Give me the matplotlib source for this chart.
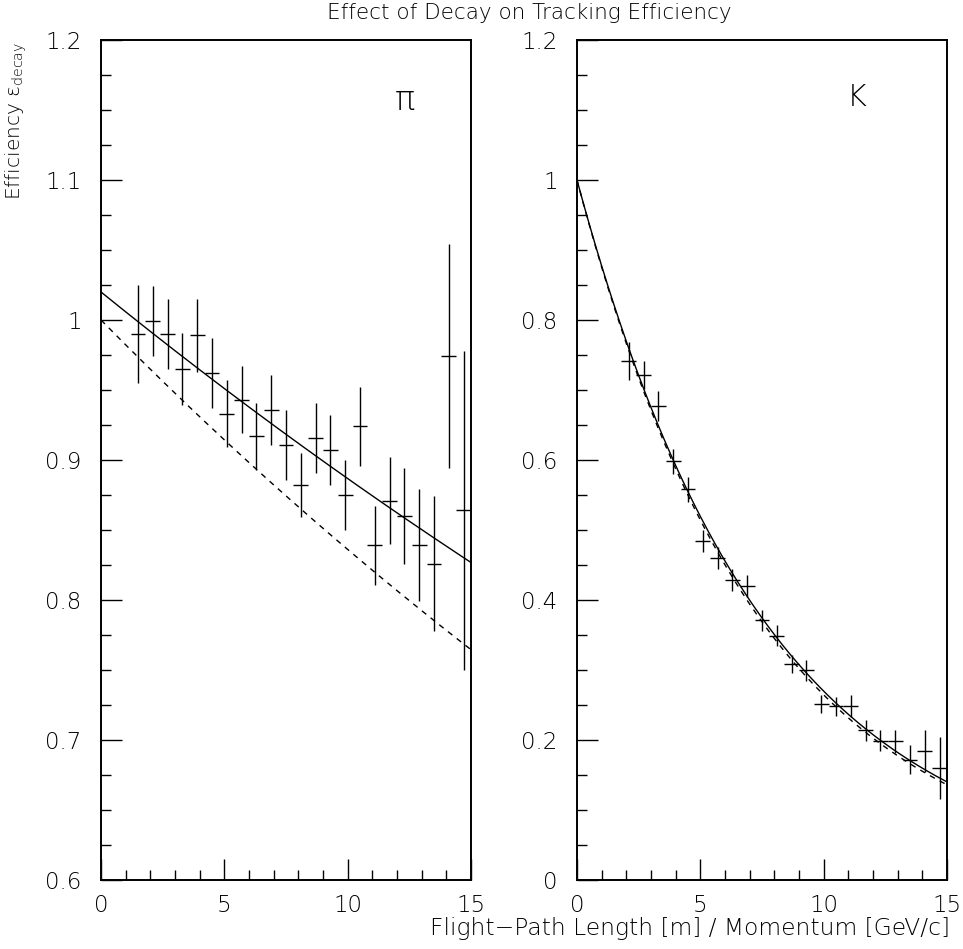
import matplotlib
matplotlib.use("Agg")
import matplotlib.pyplot as plt
from matplotlib.ticker import MultipleLocator, FuncFormatter
import numpy as np

plt.rcParams["font.family"] = ["DejaVu Sans"]
plt.rcParams["font.weight"] = 200
plt.rcParams["mathtext.fontset"] = "custom"
plt.rcParams["mathtext.rm"] = "DejaVu Sans:weight=200"
plt.rcParams["mathtext.it"] = "DejaVu Sans:weight=200"

# ── pion panel: measured efficiency per bin ───────────────────────────────
PI_X = [1.5, 2.1, 2.7, 3.3, 3.9, 4.5, 5.1, 5.7, 6.3, 6.9, 7.5, 8.1,
        8.7, 9.3, 9.9, 10.5, 11.1, 11.7, 12.3, 12.9, 13.5, 14.1, 14.7]
PI_Y = [0.990, 0.999, 0.990, 0.965, 0.989, 0.962, 0.933, 0.943, 0.917,
        0.936, 0.911, 0.882, 0.916, 0.907, 0.875, 0.924, 0.839, 0.871,
        0.860, 0.839, 0.826, 0.974, 0.864]
PI_ERR = [0.035, 0.025, 0.025, 0.026, 0.026, 0.025, 0.024, 0.024, 0.024,
          0.025, 0.025, 0.023, 0.025, 0.025, 0.025, 0.028, 0.028, 0.031,
          0.034, 0.040, 0.048, 0.080, 0.114]

# ── kaon panel ─────────────────────────────────────────────────────────────
K_X = [0.3, 0.9, 1.5, 2.1, 2.7, 3.3, 3.9, 4.5, 5.1, 5.7, 6.3, 6.9, 7.5,
       8.1, 8.7, 9.3, 9.9, 10.5, 11.1, 11.7, 12.3, 12.9, 13.5, 14.1, 14.7]
K_Y = [0.0, 0.0, 0.0, 0.742, 0.722, 0.677, 0.598, 0.558, 0.484, 0.460,
       0.429, 0.420, 0.371, 0.349, 0.309, 0.300, 0.251, 0.248, 0.249,
       0.214, 0.199, 0.198, 0.172, 0.185, 0.160]
K_ERR = [0.0, 0.0, 0.0, 0.027, 0.020, 0.021, 0.018, 0.018, 0.016, 0.016,
         0.016, 0.016, 0.015, 0.015, 0.013, 0.015, 0.013, 0.013, 0.016,
         0.015, 0.015, 0.017, 0.021, 0.030, 0.044]

BIN_HALF = 0.3

# exponential curves p0 * exp(-p1 * x): (p0, p1)
PI_FIT = (1.02, 0.0140)
PI_DECAY = (1.00, 0.0179)
K_FIT = (1.00, 0.131)
K_DECAY = (1.00, 0.133)

TICK_FS = 16.5


def fmt(v, pos):
    return f"{v:g}"


def style_axis(ax, ylim, ymajor, yminor):
    ax.set_xlim(0, 15)
    ax.set_ylim(*ylim)
    ax.xaxis.set_major_locator(MultipleLocator(5))
    ax.xaxis.set_minor_locator(MultipleLocator(1))
    ax.yaxis.set_major_locator(MultipleLocator(ymajor))
    ax.yaxis.set_minor_locator(MultipleLocator(yminor))
    ax.xaxis.set_major_formatter(FuncFormatter(fmt))
    ax.yaxis.set_major_formatter(FuncFormatter(fmt))
    ax.tick_params(which="both", direction="in", top=False, right=False,
                   width=1.0, color="black", labelsize=TICK_FS)
    ax.tick_params(which="major", length=15)
    ax.tick_params(which="minor", length=7.5)
    ax.tick_params(axis="y", which="major", pad=14)
    ax.tick_params(axis="x", which="major", pad=10)
    for sp in ax.spines.values():
        sp.set_linewidth(1.4)


def draw_panel(ax, xs, ys, errs, fit, decay):
    ax.errorbar(xs, ys, xerr=BIN_HALF, yerr=errs, fmt="none",
                ecolor="black", elinewidth=1.0, capsize=0)
    xx = np.linspace(0, 15, 300)
    ax.plot(xx, fit[0] * np.exp(-fit[1] * xx), color="black", lw=1.0)
    ax.plot(xx, decay[0] * np.exp(-decay[1] * xx), color="black", lw=1.0,
            dashes=(4, 4))


fig = plt.figure(figsize=(9.63, 9.49), dpi=100)
fig.patch.set_facecolor("white")
ax1 = fig.add_axes([101 / 963, 69 / 949, 370 / 963, 840 / 949])
ax2 = fig.add_axes([577 / 963, 69 / 949, 370 / 963, 840 / 949])

style_axis(ax1, (0.6, 1.2), 0.1, 0.025)
style_axis(ax2, (0.0, 1.2), 0.2, 0.05)

draw_panel(ax1, PI_X, PI_Y, PI_ERR, PI_FIT, PI_DECAY)
draw_panel(ax2, K_X, K_Y, K_ERR, K_FIT, K_DECAY)

ax1.text(12.3, 1.157, "\u03c0", fontsize=24, ha="center", va="center")
ax2.text(11.35, 1.118, "K", fontsize=22, ha="center", va="center")

fig.text(529 / 963, 1 - 13 / 949, "Effect of Decay on Tracking Efficiency",
         ha="center", va="center", fontsize=15.5)
fig.text(950 / 963, 1 - 929 / 949,
         "Flight\u2212Path Length [m] / Momentum [GeV/c]",
         ha="right", va="center", fontsize=16.8)
fig.text(16 / 963, 1 - 42 / 949, r"Efficiency $\varepsilon_{\rm decay}$",
         rotation=90, ha="center", va="top", fontsize=14.5)

fig.savefig("out.png", dpi=100, facecolor="white")
